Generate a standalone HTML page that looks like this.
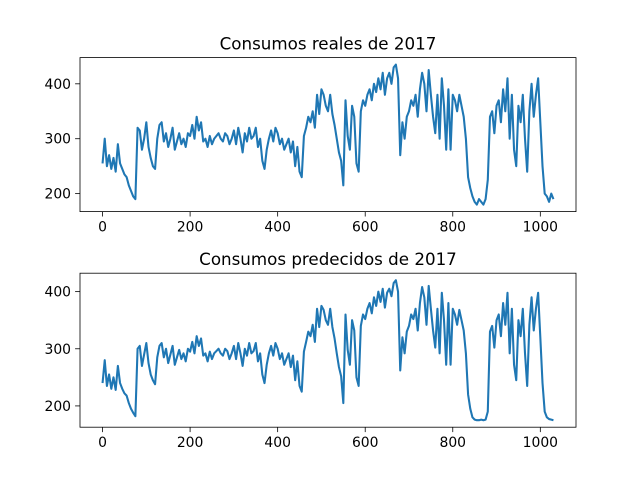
<!DOCTYPE html>
<html><head><meta charset="utf-8"><style>body{margin:0;background:#fff}svg{display:block;font-family:"DejaVu Sans","Liberation Sans",sans-serif}</style></head>
<body>
<svg id="chart" width="640" height="480" viewBox="0 0 640 480"></svg>
<script>
const realValues=[255,300,250,270,245,265,240,290,255,245,
235,230,215,205,195,190,320,315,280,300,
330,285,265,250,245,300,325,330,295,310,
285,300,320,280,295,310,290,300,285,310,
305,325,300,340,315,330,295,300,285,305,
290,300,305,310,300,295,310,305,290,300,
315,290,320,300,275,310,295,320,300,305,
320,285,300,260,245,280,300,315,295,320,
310,290,300,280,290,300,275,295,250,285,
240,230,305,320,340,330,350,320,380,345,
390,380,360,350,380,345,325,300,275,260,
215,370,305,280,360,340,255,240,350,370,
360,380,390,370,400,385,410,390,420,380,
410,420,400,430,435,410,270,330,300,340,
350,370,360,380,340,390,420,400,350,425,
380,340,310,380,300,410,360,280,390,280,
380,370,350,380,360,340,300,230,210,195,
185,180,190,185,180,190,225,340,350,310,
360,370,330,390,350,410,300,380,280,250,
360,330,380,300,240,350,400,340,380,410,
330,250,200,195,185,200,190];
const predValues=[240,280,235,255,230,250,228,270,240,230,
222,218,205,195,188,182,300,305,270,290,
310,275,255,245,238,285,305,310,285,300,
275,290,305,272,285,298,282,292,278,300,
295,312,292,322,305,318,288,292,278,295,
282,292,296,300,292,288,300,296,282,292,
305,282,310,292,270,300,288,310,292,296,
310,278,292,255,240,272,292,305,288,310,
300,282,292,272,282,292,268,288,245,278,
235,225,295,312,330,322,342,312,370,338,
375,368,350,342,370,338,318,292,268,252,
205,360,298,272,350,332,250,235,340,360,
352,370,380,362,390,375,400,382,405,372,
398,405,392,415,420,400,262,320,292,330,
340,360,352,370,332,380,408,390,342,410,
370,332,302,370,292,398,350,272,380,272,
370,360,342,368,350,332,292,220,195,180,
176,175,175,176,175,176,190,330,340,302,
350,360,322,380,342,398,292,370,272,245,
350,322,370,292,235,342,390,332,370,398,
320,240,190,180,177,176,175];
const stepX=5;
const xTicks=[0,200,400,600,800,1000];
const yTicks=[200,300,400];
const svg=document.getElementById('chart');
const NS='http://www.w3.org/2000/svg';
function mk(t,a,p){const e=document.createElementNS(NS,t);for(const k in a)e.setAttribute(k,a[k]);(p||svg).appendChild(e);return e;}
function panel(vals,top,title,key){
  const L=80,R=576,B=top+154;
  const n=vals.length,xmax=(n-1)*stepX;
  const xmin0=-0.05*xmax,xmax0=xmax*1.05;
  const mn=Math.min(...vals),mx=Math.max(...vals),pad=(mx-mn)*0.05;
  const ymin=mn-pad,ymax=mx+pad;
  const xs=v=>L+(v-xmin0)/(xmax0-xmin0)*(R-L);
  const ys=v=>B-(v-ymin)/(ymax-ymin)*(B-top);
  const g=mk('g',{});
  
  
  const t=mk('text',{x:(L+R)/2,y:top-8,'text-anchor':'middle','font-size':'16.7',fill:'#000'},g);
  t.textContent=title;
  
  
  let d='';vals.forEach((v,i)=>{d+=(i?'L':'M')+xs(i*stepX).toFixed(2)+' '+ys(v).toFixed(2);});
  const line=mk('path',{d:d,fill:'none',stroke:'#1f77b4','stroke-width':'2.08','stroke-linejoin':'round'},g);
  
  
  const fr=mk('rect',{x:L,y:top,width:R-L,height:B-top,fill:'none',stroke:'#000','stroke-width':'0.8'},g);
  
  
  xTicks.forEach(v=>{const x=xs(v);mk('line',{x1:x,x2:x,y1:B,y2:B+4.9,stroke:'#000','stroke-width':'0.8'},g);
    const l=mk('text',{x:x,y:B+20,'text-anchor':'middle','font-size':'13.9',fill:'#000'},g);l.textContent=v;
    
    });
  yTicks.forEach(v=>{const y=ys(v);mk('line',{x1:L-4.9,x2:L,y1:y,y2:y,stroke:'#000','stroke-width':'0.8'},g);
    const l=mk('text',{x:L-9,y:y+5,'text-anchor':'end','font-size':'13.9',fill:'#000'},g);l.textContent=v;
    
    });
}
panel(realValues,57.6,'Consumos reales de 2017','real');
panel(predValues,273.2,'Consumos predecidos de 2017','pred');
</script>
</body></html>
